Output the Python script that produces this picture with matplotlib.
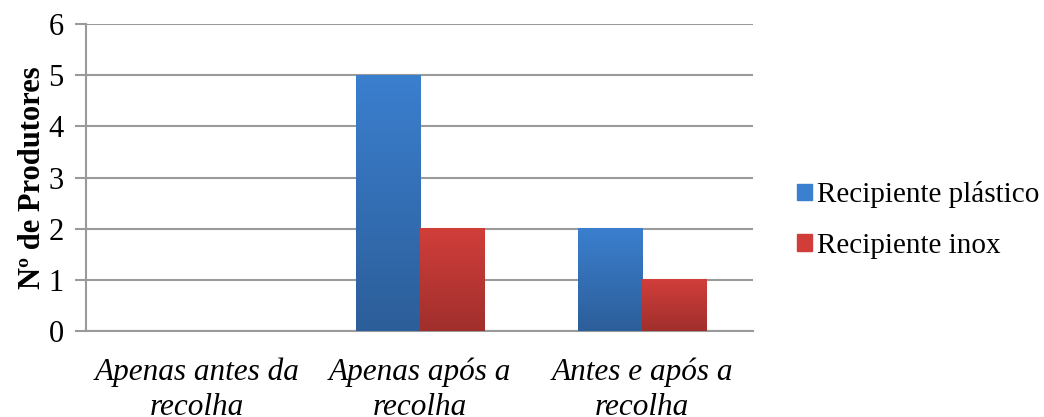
import numpy as np
import matplotlib.pyplot as plt
import matplotlib.colors as mcolors

plt.rcParams['font.family'] = ['Liberation Serif', 'DejaVu Serif']

# --- Data ---
categories = ['Apenas antes da\nrecolha', 'Apenas após a\nrecolha', 'Antes e após a\nrecolha']
plastico = [0, 5, 2]
inox = [0, 2, 1]
series_names = ['Recipiente plástico', 'Recipiente inox']

# gradient colours (top, bottom)
blue_grad = ('#3b7fcf', '#2c5e99')
red_grad = ('#d13e3a', '#a02f2c')


def gradient_fill(ax, bars, top_col, bottom_col):
    cmap = mcolors.LinearSegmentedColormap.from_list('g', [bottom_col, top_col])
    grad = np.linspace(0, 1, 256).reshape(-1, 1)
    for b in bars:
        h = b.get_height()
        if h <= 0:
            continue
        x0 = b.get_x()
        ax.imshow(grad, extent=[x0, x0 + b.get_width(), 0, h], origin='lower',
                  cmap=cmap, aspect='auto', zorder=3)
        b.set_visible(False)


fig = plt.figure(figsize=(10.44, 4.17), dpi=100)
ax = fig.add_axes([0.0824, 0.2062, 0.639, 0.736])

x = np.arange(len(categories))
w = 0.288
b1 = ax.bar(x - w / 2, plastico, w, color=blue_grad[0], zorder=3)
b2 = ax.bar(x + w / 2, inox, w, color=red_grad[0], zorder=3)
gradient_fill(ax, b1, *blue_grad)
gradient_fill(ax, b2, *red_grad)

ax.set_xlim(-0.5, 2.5)
ax.set_ylim(0, 6)
ax.set_yticks(range(0, 7))
ax.yaxis.grid(True, color='#9a9a9a', linewidth=1.5, zorder=0)
ax.set_axisbelow(True)

for s in ['top', 'right']:
    ax.spines[s].set_visible(False)
for s in ['left', 'bottom']:
    ax.spines[s].set_color('#9a9a9a')
    ax.spines[s].set_linewidth(1.5)

ax.tick_params(axis='y', length=8, width=1.5, color='#9a9a9a', labelsize=22, pad=8)

# category labels, one text per line so the baselines sit where the reference has them
ax.set_xticks(x)
ax.set_xticklabels([''] * len(categories))
ax.tick_params(axis='x', length=0)
for xi, lab in zip(x, categories):
    for k, line in enumerate(lab.split('\n')):
        ax.annotate(line, (xi, 0), xycoords=ax.get_xaxis_transform(),
                    xytext=(0, -35.5 - 25 * k), textcoords='offset points',
                    ha='center', va='baseline', fontsize=22.5, style='italic',
                    annotation_clip=False)

ax.set_ylabel('Nº de Produtores', fontsize=22, fontweight='bold')
ax.yaxis.set_label_coords(-0.059, 0.5)

handles = [plt.Rectangle((0, 0), 1, 1, color=blue_grad[0]),
           plt.Rectangle((0, 0), 1, 1, color=red_grad[0])]
fig.legend(handles, series_names, loc='center left', bbox_to_anchor=(0.7634, 0.472),
           frameon=False, fontsize=21, handlelength=0.5, handleheight=0.5,
           handletextpad=0.2, labelspacing=0.85, borderaxespad=0, borderpad=0)

fig.savefig('out.png', dpi=100)
